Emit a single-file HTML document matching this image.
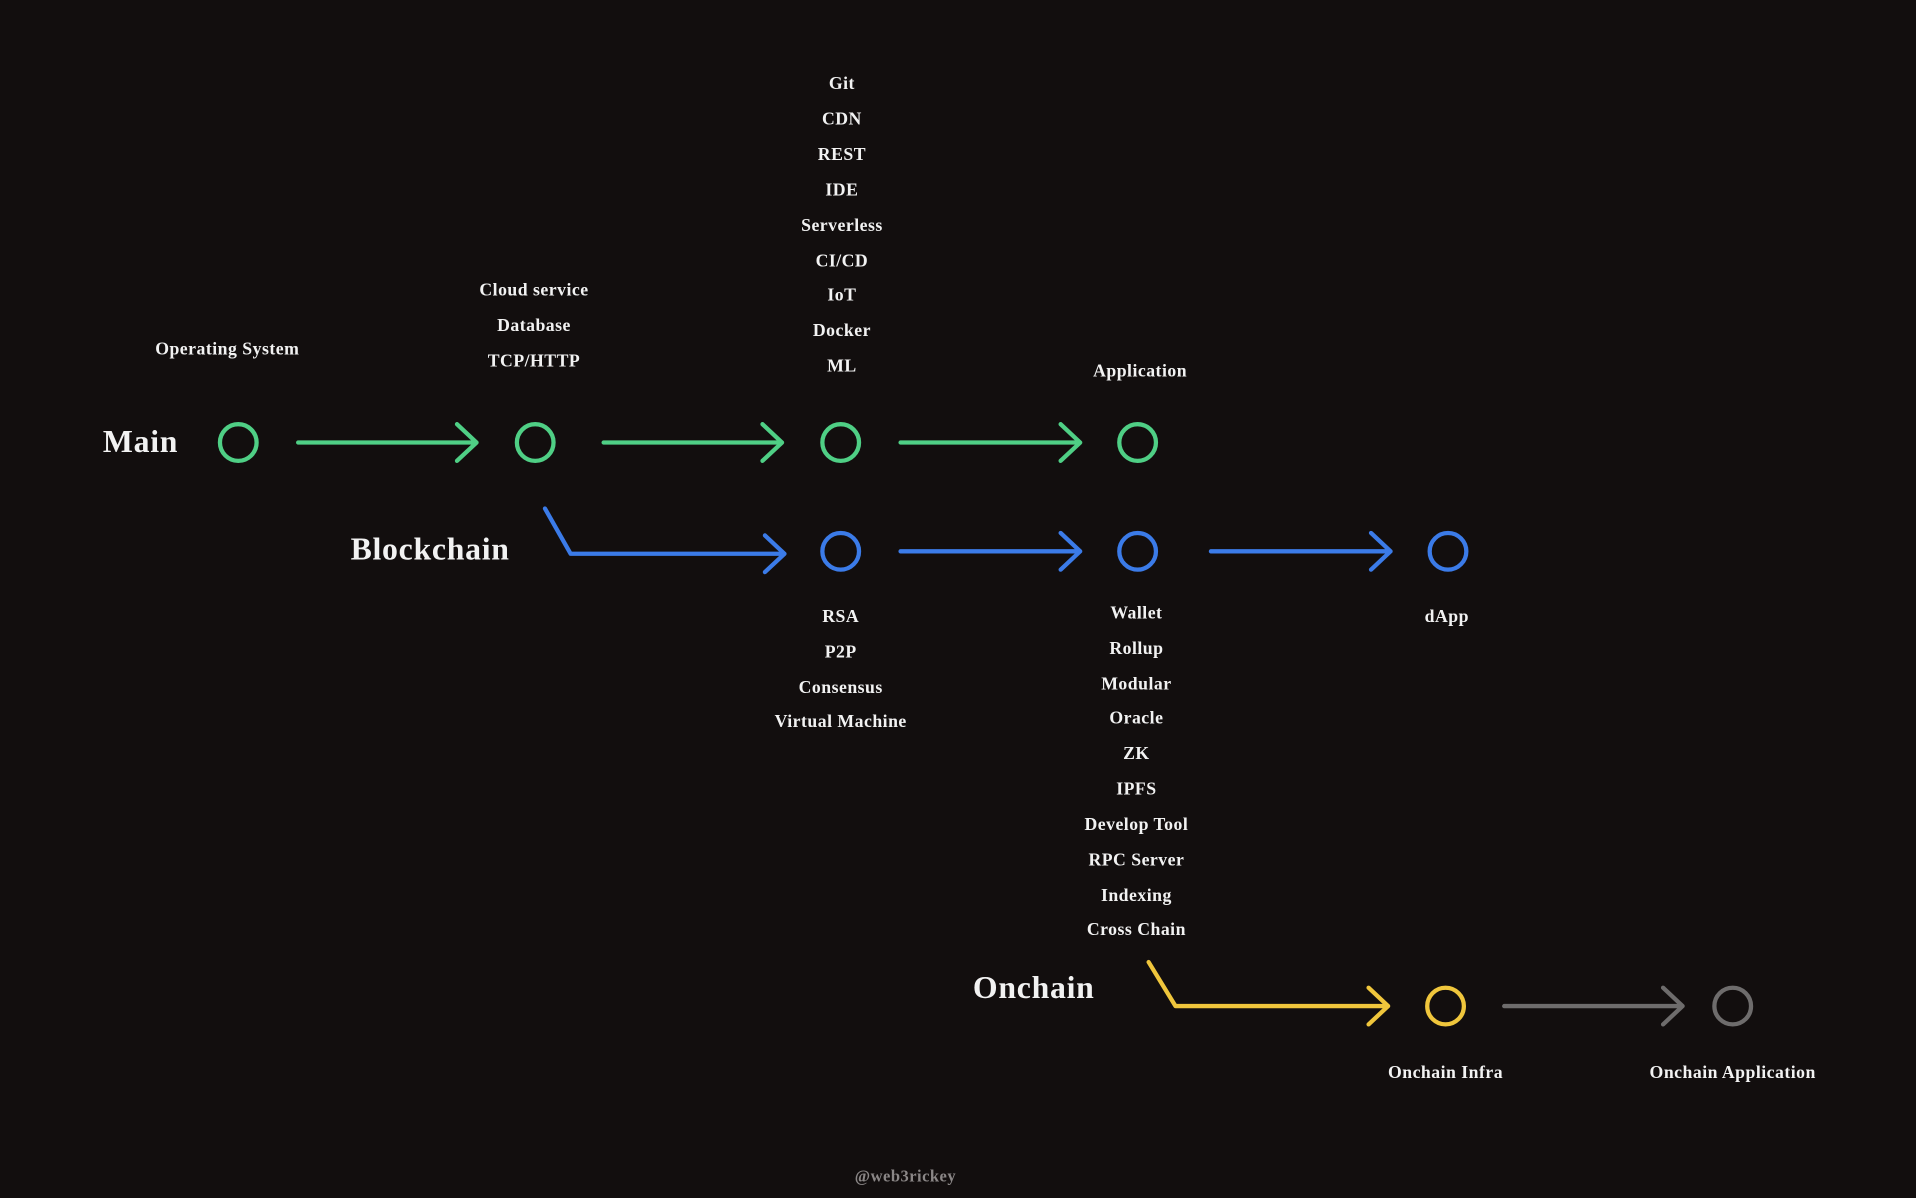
<!DOCTYPE html>
<html><head><meta charset="utf-8"><style>
html,body{margin:0;padding:0;background:#120e0e;}
svg{display:block}
text{font-family:"Liberation Serif","DejaVu Serif",serif;font-weight:bold;fill:#f2f2f2;text-anchor:middle;dominant-baseline:central;font-size:14.5px;letter-spacing:0.4px}
.big{font-size:26px;letter-spacing:0.6px}
</style></head><body>
<svg width="1916" height="1198" viewBox="0 0 1568 980" preserveAspectRatio="none">
<rect width="1568" height="980" fill="#120e0e"/>
<g fill="none" stroke-width="3.5" stroke-linecap="round" stroke-linejoin="round">
<g stroke="#4fcf85">
<circle cx="195" cy="362" r="15"/><circle cx="438" cy="362" r="15"/><circle cx="688" cy="362" r="15"/><circle cx="931" cy="362" r="15"/>
<path d="M244 362H390M374 347L390 362L374 377"/>
<path d="M494 362H640M624 347L640 362L624 377"/>
<path d="M737 362H884M868 347L884 362L868 377"/>
</g>
<g stroke="#3b7be8">
<circle cx="688" cy="451" r="15"/><circle cx="931" cy="451" r="15"/><circle cx="1185" cy="451" r="15"/>
<path d="M446 416L467 453H642M626 438L642 453L626 468"/>
<path d="M737 451H884M868 436L884 451L868 466"/>
<path d="M991 451H1138M1122 436L1138 451L1122 466"/>
</g>
<g stroke="#f0c63c">
<circle cx="1183" cy="823" r="15"/>
<path d="M940 787L962 823H1136M1120 808L1136 823L1120 838"/>
</g>
<g stroke="#6e6c6c">
<circle cx="1418" cy="823" r="15"/>
<path d="M1231 823H1377M1361 808L1377 823L1361 838"/>
</g>
</g>
<text class="big" x="115" y="361">Main</text>
<text class="big" x="352" y="449">Blockchain</text>
<text class="big" x="846" y="808">Onchain</text>
<text x="186" y="285">Operating System</text>
<text x="437" y="237">Cloud service</text><text x="437" y="266">Database</text><text x="437" y="295">TCP/HTTP</text>
<text x="689" y="68">Git</text><text x="689" y="97">CDN</text><text x="689" y="126">REST</text><text x="689" y="155">IDE</text><text x="689" y="184">Serverless</text><text x="689" y="213">CI/CD</text><text x="689" y="241">IoT</text><text x="689" y="270">Docker</text><text x="689" y="299">ML</text>
<text x="933" y="303">Application</text>
<text x="688" y="504">RSA</text><text x="688" y="533">P2P</text><text x="688" y="562">Consensus</text><text x="688" y="590">Virtual Machine</text>
<text x="930" y="501">Wallet</text><text x="930" y="530">Rollup</text><text x="930" y="559">Modular</text><text x="930" y="587">Oracle</text><text x="930" y="616">ZK</text><text x="930" y="645">IPFS</text><text x="930" y="674">Develop Tool</text><text x="930" y="703">RPC Server</text><text x="930" y="732">Indexing</text><text x="930" y="760">Cross Chain</text>
<text x="1184" y="504">dApp</text>
<text x="1183" y="877">Onchain Infra</text>
<text x="1418" y="877">Onchain Application</text>
<text x="741" y="962" style="fill:#8a8686;font-size:13.5px">@web3rickey</text>
</svg>
</body></html>
